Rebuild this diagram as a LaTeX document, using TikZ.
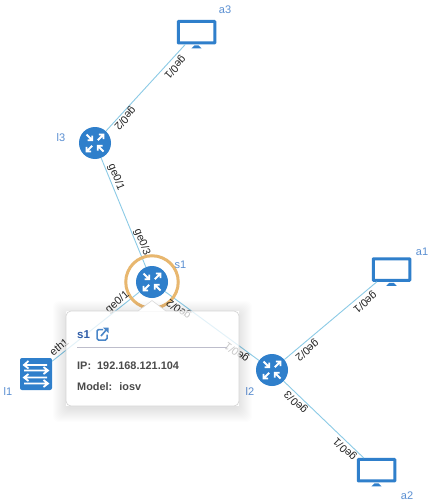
\documentclass[tikz,border=0pt]{standalone}
\usepackage{fontspec}
\setmainfont{Liberation Sans}
\definecolor{nodeblue}{HTML}{2F7FCB}
\definecolor{linkblue}{HTML}{8CCBE6}
\definecolor{namelbl}{HTML}{5A8FD2}
\definecolor{ringc}{HTML}{E8B76F}
\definecolor{cardtxt}{HTML}{4A4A4A}
\definecolor{cardttl}{HTML}{2F5DA8}
\definecolor{iconblue}{HTML}{4A86C8}
\definecolor{rulec}{HTML}{BDBDCB}
\tikzset{
  router/.style={circle,fill=nodeblue,minimum size=32pt,inner sep=0pt},
  switchbox/.style={rectangle,rounded corners=2pt,fill=nodeblue,minimum size=32pt,inner sep=0pt},
  monitor/.style={rectangle,rounded corners=.5pt,draw=nodeblue,line width=3pt,fill=white,minimum width=36.5pt,minimum height=21.5pt,inner sep=0pt},
  stand/.style={fill=nodeblue,draw=none},
  link/.style={draw=linkblue,line width=.9pt},
  portlbl/.style={font=\fontsize{10.8}{12}\selectfont,text=black!85,inner sep=0pt},
  namelabel/.style={font=\fontsize{11}{12}\selectfont,text=namelbl,inner sep=0pt},
  cardtext/.style={font=\bfseries\fontsize{10.9}{12}\selectfont,text=cardtxt,inner sep=0pt,anchor=west},
  glyph/.style={draw=white,line width=1.8pt},
}
\newcommand{\routerglyph}[1]{%
  \begin{scope}[shift={(#1.center)}]
    \draw[glyph] (-8.5,-8.5)--(-2.8,-2.8) (-7.5,-2.8)--(-2.8,-2.8)--(-2.8,-7.5);
    \draw[glyph] (8.5,8.5)--(2.8,2.8) (7.5,2.8)--(2.8,2.8)--(2.8,7.5);
    \draw[glyph] (2.8,-2.8)--(8.5,-8.5) (3.8,-8.5)--(8.5,-8.5)--(8.5,-3.8);
    \draw[glyph] (-2.8,2.8)--(-8.5,8.5) (-3.8,8.5)--(-8.5,8.5)--(-8.5,3.8);
  \end{scope}}
\newcommand{\monitorstand}[1]{%
  \fill[stand] ([xshift=-2pt,yshift=-1pt]#1.south) -- ([xshift=2pt,yshift=-1pt]#1.south)
    -- ([xshift=5.2pt,yshift=-4pt]#1.south) -- ([xshift=-5.2pt,yshift=-4pt]#1.south) -- cycle;}
\begin{document}
\begin{tikzpicture}[x=1pt,y=-1pt]
\useasboundingbox (0,0) rectangle (432,503);
\fill[white] (0,0) rectangle (432,503);
% nodes
\node[router] (l3) at (95,143) {};
\node[router] (s1) at (152,282) {};
\node[router] (l2) at (272,370) {};
\node[switchbox] (l1) at (36,374) {};
\node[monitor] (a3) at (196.5,32.2) {};
\node[monitor] (a1) at (391.5,269.5) {};
\node[monitor] (a2) at (376.5,470.2) {};
% connectors
\draw[link] (l3) -- (a3);
\draw[link] (l3) -- (s1);
\draw[link] (s1) -- (l1);
\draw[link] (s1) -- (l2);
\draw[link] (l2) -- (a1);
\draw[link] (l2) -- (a2);
\monitorstand{a3}\monitorstand{a1}\monitorstand{a2}
\routerglyph{l3}\routerglyph{s1}\routerglyph{l2}
% switch glyph
\begin{scope}[shift={(l1.center)}]
  \draw[glyph] (-12,-9)--(11,-9) (-7.5,-13)--(-12,-9)--(-7.5,-5.5);
  \draw[glyph] (-12,-3.5)--(12,-3.5) (7.5,-7)--(12,-3.5)--(7.5,0);
  \draw[glyph] (-12,3.5)--(11,3.5) (-7.5,0)--(-12,3.5)--(-7.5,7);
  \draw[glyph] (-12,9.5)--(12,9.5) (7.5,6)--(12,9.5)--(7.5,13);
\end{scope}
% selection ring
\node[circle,draw=ringc,line width=3pt,minimum size=52.5pt,inner sep=0pt] (ring) at (s1.center) {};
% port labels
\node[portlbl,rotate=228] (p1) at (175,67) {ge0/1};
\node[portlbl,rotate=228] (p2) at (125,118) {ge0/2};
\node[portlbl,rotate=-68] (p3) at (116,177) {ge0/1};
\node[portlbl,rotate=-68] (p4) at (142,242) {ge0/3};
\node[portlbl,rotate=40] (p5) at (117.5,302.5) {ge0/1};
\node[portlbl,rotate=40] (p6) at (59,347) {eth1};
\node[portlbl,rotate=143] (p7) at (179,309) {ge0/2};
\node[portlbl,rotate=143] (p8) at (237,352) {ge0/1};
\node[portlbl,rotate=220] (p9) at (365,302) {ge0/1};
\node[portlbl,rotate=220] (p10) at (307,350) {ge0/2};
\node[portlbl,rotate=136] (p11) at (296,402) {ge0/3};
\node[portlbl,rotate=136] (p12) at (345,449) {ge0/1};
% node names
\node[namelabel] (na3) at (225,10) {a3};
\node[namelabel] (nl3) at (61,138) {l3};
\node[namelabel] (ns1) at (180.5,265) {s1};
\node[namelabel] (na1) at (422,252) {a1};
\node[namelabel] (nl2) at (250,392) {l2};
\node[namelabel] (na2) at (407,496) {a2};
\node[namelabel] (nl1) at (8,392) {l1};
% card shadow, outside the card only
\begin{scope}[even odd rule]
\clip (0,0) rectangle (432,503) (66,311) rectangle (239,406);
\foreach \g in {0,1,...,13}{
  \fill[black,opacity=.009,rounded corners=6pt] (66-\g,314-\g) rectangle (239+\g,409+\g);
}
\end{scope}
% card
\fill[white,opacity=.75,rounded corners=5pt] (66,311) rectangle (239,406);
\draw[black!16,line width=.7pt,rounded corners=5pt] (66,311) rectangle (239,406);
\fill[white] (138,311.6) -- (152,300.5) -- (166,311.6) -- cycle;
\draw[black!14,line width=.6pt] (138,311) -- (152,300.5) -- (166,311);
\node[font=\bfseries\fontsize{11.5}{14}\selectfont,text=cardttl,inner sep=0pt,anchor=west] (ttl) at (77,335) {s1};
% external link icon
\draw[iconblue,line width=1.5pt,rounded corners=1.5pt] (103,329.5) -- (97,329.5) -- (97,340) -- (107,340) -- (107,334.5);
\draw[iconblue,line width=1.6pt] (101,336) -- (107,329);
\fill[iconblue] (103,327.5) -- (108.5,327.5) -- (108.5,333) -- cycle;
\draw[rulec,line width=.8pt] (77,347.5) -- (227,347.5);
\node[cardtext] (ip) at (77,366) {IP:\hspace{3pt} 192.168.121.104};
\node[cardtext] (model) at (77,387) {Model:\hspace{3pt} iosv};
\end{tikzpicture}
\end{document}
